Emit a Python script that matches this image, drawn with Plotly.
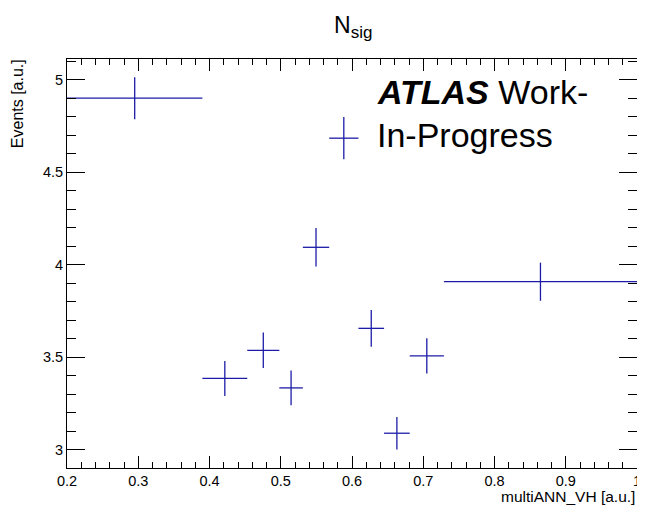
import plotly.graph_objects as go

# Data
bin_edges = [0.2, 0.39, 0.453, 0.498, 0.531, 0.568, 0.609, 0.645, 0.681, 0.729, 1.0]
values = [4.90, 3.385, 3.537, 3.334, 4.094, 4.684, 3.656, 3.089, 3.507, 3.908]
errors = [0.114, 0.095, 0.096, 0.094, 0.104, 0.114, 0.099, 0.088, 0.095, 0.103]

x_tickvals = [0.2, 0.3, 0.4, 0.5, 0.6, 0.7, 0.8, 0.9, 1.0]
x_ticktext = ["0.2", "0.3", "0.4", "0.5", "0.6", "0.7", "0.8", "0.9", "1"]
y_tickvals = [3, 3.5, 4, 4.5, 5]
y_ticktext = ["3", "3.5", "4", "4.5", "5"]

centers = [(bin_edges[i] + bin_edges[i + 1]) / 2 for i in range(len(values))]
half_w = [(bin_edges[i + 1] - bin_edges[i]) / 2 for i in range(len(values))]

col = "#1c1ca8"
font = "Liberation Sans, Arial, sans-serif"

fig = go.Figure()
fig.add_trace(go.Scatter(
    x=centers, y=values, mode="markers",
    marker=dict(size=0.1, color=col),
    error_x=dict(type="data", array=half_w, symmetric=True, width=0, thickness=1.3, color=col),
    error_y=dict(type="data", array=errors, symmetric=True, width=0, thickness=1.3, color=col),
    showlegend=False, cliponaxis=True,
))

# the page body has an 8px default margin, so the figure is drawn 8px smaller
fig.update_layout(
    width=637, height=497,
    margin=dict(l=59, r=4, t=51, b=37),
    paper_bgcolor="white", plot_bgcolor="white",
    font=dict(family=font, size=14, color="black"),
    title=dict(text="N<sub><span style='font-size:17px'>sig</span></sub>", x=0.542, xanchor="center",
               y=0.965, yanchor="middle",
               font=dict(family=font, size=23, color="black")),
)
fig.update_xaxes(
    range=[0.2, 1.0], showgrid=False, zeroline=False,
    showline=True, linecolor="black", linewidth=1, mirror="ticks",
    ticks="inside", ticklen=12, tickwidth=1, tickcolor="black",
    tickvals=x_tickvals, ticktext=x_ticktext, ticklabeloverflow="allow",
    minor=dict(ticks="inside", ticklen=6, tickwidth=1, tickcolor="black", dtick=0.02, tick0=0.2, showgrid=False),
    tickfont=dict(size=14.5),
)
fig.update_yaxes(
    range=[2.901, 5.112], showgrid=False, zeroline=False,
    showline=True, linecolor="black", linewidth=1, mirror="ticks",
    ticks="inside", ticklen=18, tickwidth=1, tickcolor="black",
    tickvals=y_tickvals, ticktext=y_ticktext, ticklabeloverflow="allow",
    minor=dict(ticks="inside", ticklen=9, tickwidth=1, tickcolor="black", dtick=0.1, tick0=3, showgrid=False),
    tickfont=dict(size=14.5),
)

fig.add_annotation(text="<b><i>ATLAS</i></b> Work-", xref="paper", yref="paper",
                   x=0.541, y=0.92, xanchor="left", yanchor="middle", showarrow=False,
                   font=dict(family=font, size=34, color="black"))
fig.add_annotation(text="In-Progress", xref="paper", yref="paper",
                   x=0.541, y=0.813, xanchor="left", yanchor="middle", showarrow=False,
                   font=dict(family=font, size=34, color="black"))
fig.add_annotation(text="Events [a.u.]", xref="paper", yref="paper", textangle=-90,
                   x=-0.0854, y=1.004, xanchor="center", yanchor="top", showarrow=False,
                   font=dict(family=font, size=16, color="black"))
fig.add_annotation(text="multiANN_VH [a.u.]", xref="paper", yref="paper",
                   x=1.0, y=-0.07, xanchor="right", yanchor="middle", showarrow=False,
                   font=dict(family=font, size=15.5, color="black"))

fig.write_html("out.html")
